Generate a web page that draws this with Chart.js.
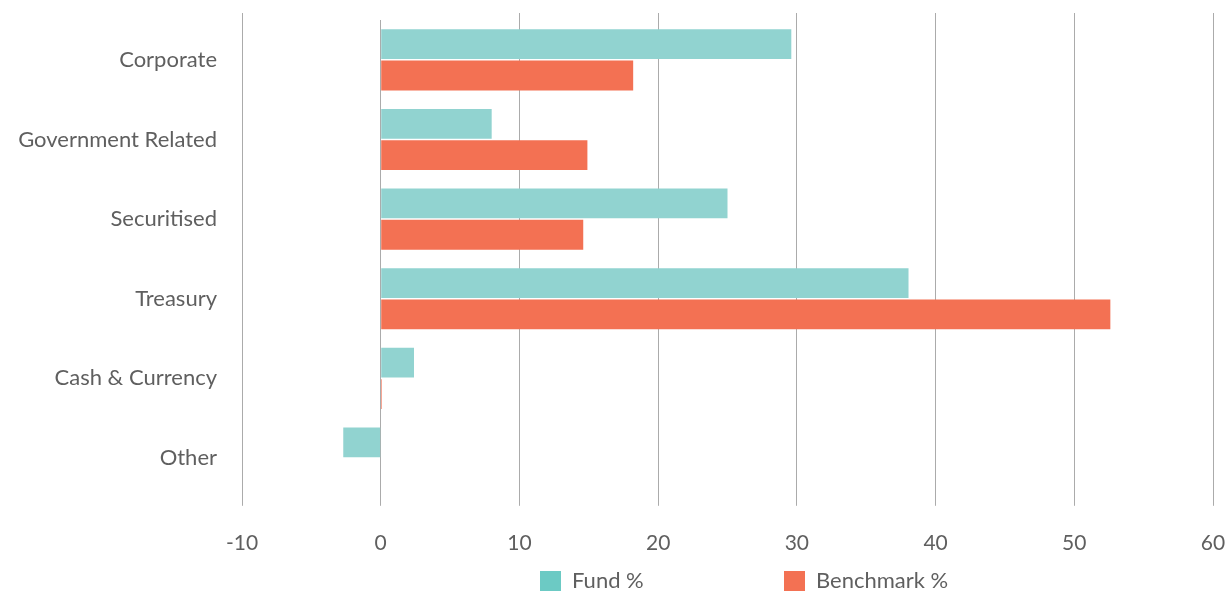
<!DOCTYPE html>
<html>
<head>
<meta charset="utf-8">
<script src="https://cdn.jsdelivr.net/npm/chart.js@4"></script>
<style>
  html, body { margin: 0; padding: 0; background: #fff; }
  #wrap { position: relative; width: 1228px; height: 591px; overflow: hidden; }
  #legend { position: absolute; top: 567px; left: 0; width: 1228px; height: 26px;
            font-family: Lato, sans-serif; font-size: 22px; color: #5f5f5f; }
  #legend span.item { position: absolute; top: 0; white-space: nowrap; line-height: 26px; }
  #legend span.box { display: inline-block; width: 21px; height: 20px; vertical-align: -3px; margin-right: 11px; }
</style>
</head>
<body>
<div id="wrap">
  <canvas id="myChart" width="1228" height="591"></canvas>
  <div id="legend"></div>
</div>
<script>
const categories = ['Corporate', 'Government Related', 'Securitised', 'Treasury', 'Cash & Currency', 'Other'];
const fundValues = [29.6, 8.0, 25.0, 38.05, 2.4, -2.7];
const benchValues = [18.2, 14.9, 14.6, 52.6, 0.08, 0];
const xTicks = [-10, 0, 10, 20, 30, 40, 50, 60];

const fundColor = '#91d3d0';
const fundLegend = '#6ccac4';
const benchColor = '#f37153';
const gridColor = '#ababab';
const textColor = '#5f5f5f';

// grid lines go a bit above the plot area in the original (not the zero line)
const gridExtend = {
    id: 'gridExtend',
    beforeDatasetsDraw(chart) {
        const ctx = chart.ctx;
        const x = chart.scales.x;
        ctx.save();
        ctx.strokeStyle = gridColor;
        ctx.lineWidth = 1;
        x.ticks.forEach(function (t) {
            if (t.value === 0) return;
            // same rounding as chart.js uses for its own grid lines
            const px = Math.round(x.getPixelForValue(t.value) - 0.5) + 0.5;
            ctx.beginPath();
            ctx.moveTo(px, 13);
            ctx.lineTo(px, chart.chartArea.top);
            ctx.stroke();
        });
        ctx.restore();
    }
};

var config = {
    type: 'bar',
    data: {
        labels: categories,
        datasets: [
            {
                label: 'Fund %',
                data: fundValues,
                backgroundColor: fundColor
            },
            {
                label: 'Benchmark %',
                data: benchValues,
                backgroundColor: benchColor
            }
        ]
    },
    options: {
        indexAxis: 'y',
        responsive: false,
        animation: false,
        categoryPercentage: 0.7875,
        barPercentage: 0.95,
        layout: { padding: { top: 20, right: 15, left: 0, bottom: 10 } },
        scales: {
            x: {
                min: -10,
                max: 60,
                afterBuildTicks: function (axis) {
                    axis.ticks = xTicks.map(function (v) { return { value: v }; });
                },
                afterFit: function (scale) { scale.paddingLeft = 0; scale.paddingRight = 0; },
                grid: { color: gridColor, lineWidth: 1, tickLength: 8 },
                border: { display: false },
                ticks: { color: textColor, padding: 25, font: { family: 'Lato', size: 21 } }
            },
            y: {
                afterFit: function (scale) {
                    scale.width = 242;
                    scale.paddingTop = 0;
                    scale.paddingBottom = 0;
                },
                grid: { display: false },
                border: { display: false },
                ticks: { color: textColor, padding: 17, font: { family: 'Lato', size: 22 } }
            }
        },
        plugins: {
            legend: { display: false },
            tooltip: { enabled: false }
        }
    },
    plugins: [gridExtend]
};

var chart = new Chart('myChart', config);

// legend below the axis, as in the original
const legendItems = [
    { text: 'Fund %', color: fundLegend, left: 540 },
    { text: 'Benchmark %', color: benchColor, left: 784 }
];
let legendHTML = '';
for (var i = 0; i < legendItems.length; i++) {
    legendHTML += '<span class="item" style="left:' + legendItems[i].left + 'px">' +
        '<span class="box" style="background:' + legendItems[i].color + '"></span>' +
        legendItems[i].text + '</span>';
}
document.getElementById('legend').innerHTML = legendHTML;
</script>
</body>
</html>
